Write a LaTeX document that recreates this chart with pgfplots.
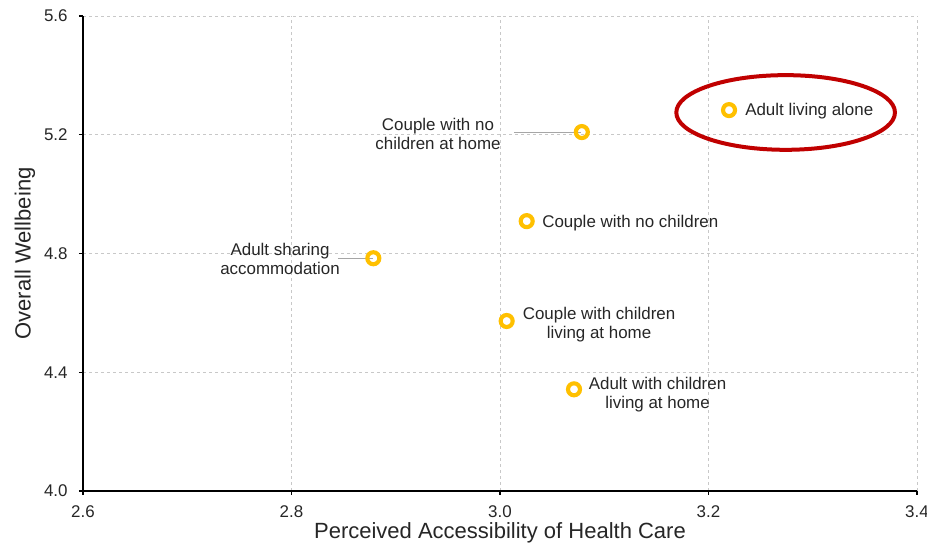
\documentclass[border=0pt]{standalone}
\usepackage{fontspec}
\setmainfont{Liberation Sans}
\usepackage{pgfplots}
\pgfplotsset{compat=1.18}
\definecolor{ptyellow}{HTML}{FFC000}
\definecolor{ellred}{HTML}{C00000}
\definecolor{gridgray}{HTML}{C8C8C8}
\definecolor{leadgray}{HTML}{A6A6A6}
\definecolor{txt}{HTML}{262626}
\begin{document}
\begin{tikzpicture}
\path[use as bounding box] (-62.25pt,-40.5pt) rectangle (633pt,368.25pt);
\begin{axis}[
  at={(0,0)}, anchor=south west,
  scale only axis, width=625.5pt, height=356.25pt,
  xmin=2.6, xmax=3.4, ymin=4.0, ymax=5.6,
  xtick={2.6,2.8,3.0,3.2,3.4}, ytick={4.0,4.4,4.8,5.2,5.6},
  grid=major, major grid style={gridgray, dash pattern=on 2.5pt off 2pt, line width=0.6pt},
  axis x line*=bottom, axis y line*=left,
  axis line style={black, line width=1.1pt},
  tick align=outside, major tick length=3pt, tick style={black, line width=0.8pt},
  ticklabel style={font=\fontsize{12.7}{15}\selectfont, text=txt},
  /pgf/number format/assume math mode=true,
  xticklabel style={yshift=-4.5pt, /pgf/number format/.cd,fixed,fixed zerofill,precision=1},
  yticklabel style={xshift=-5pt, /pgf/number format/.cd,fixed,fixed zerofill,precision=1},
  xlabel={Perceived Accessibility of Health Care},
  ylabel={Overall Wellbeing},
  label style={font=\fontsize{16.5}{19}\selectfont, text=txt},
  xlabel style={at={(axis description cs:0.5,-0.0884)}, anchor=center},
  ylabel style={at={(axis description cs:-0.0695,0.5)}, anchor=center, rotate=0},
  clip=false,
]
% leader lines
\draw[leadgray, line width=0.7pt] (axis cs:3.0134,5.209) -- (axis cs:3.078,5.209);
\draw[leadgray, line width=0.7pt] (axis cs:2.8445,4.784) -- (axis cs:2.8785,4.784);
\addplot[only marks, mark=o, mark size=4.5pt, mark options={draw=ptyellow, line width=3.1pt}]
coordinates {
(3.2197,5.283)
(3.0785,5.209)
(3.0256,4.909)
(2.8785,4.784)
(3.0064,4.5726)
(3.0710,4.3425)
};
\begin{scope}[every node/.style={font=\fontsize{12.7}{14.25}\selectfont, text=txt, inner sep=0pt, align=center}]
\node[anchor=west] at (axis cs:3.235,5.281) {Adult living alone};
\node at (axis cs:2.9405,5.2026) {Couple with no\\children at home};
\node[anchor=west] at (axis cs:3.0403,4.903) {Couple with no children};
\node at (axis cs:2.789,4.781) {Adult sharing\\accommodation};
\node at (axis cs:3.095,4.559) {Couple with children\\living at home};
\node at (axis cs:3.1511,4.325) {Adult with children\\living at home};
\end{scope}
\draw[ellred, line width=3pt] (axis cs:3.274,5.275) ellipse [x radius=82pt, y radius=28pt];
\end{axis}
\end{tikzpicture}
\end{document}
